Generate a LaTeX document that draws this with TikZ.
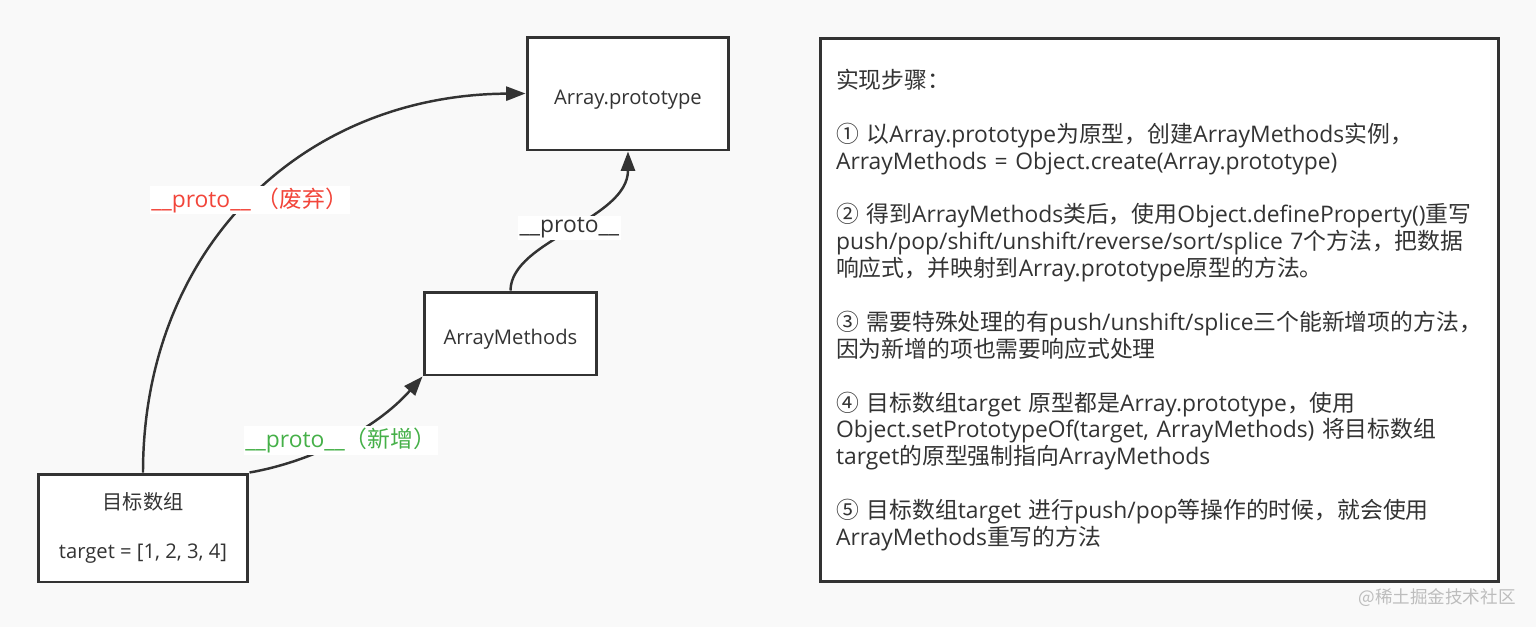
\documentclass[tikz,border=0pt]{standalone}
\usepackage{fontspec}
\setmainfont{Open Sans}
\newfontfamily\zhfont{Noto Sans CJK SC}
\newcommand\zh[1]{{\zhfont #1}}
\usepackage{xcolor}
\usetikzlibrary{arrows.meta}
\definecolor{ink}{HTML}{333333}
\definecolor{bgpaper}{HTML}{F9F9F9}
\definecolor{oldred}{HTML}{F2453A}
\definecolor{newgreen}{HTML}{45B048}
\definecolor{markgray}{HTML}{BDBDBD}

\begin{document}
\begin{tikzpicture}[x=0.02cm,y=-0.02cm]
\tikzset{box/.style={draw=ink,line width=1.7pt,fill=white,text=ink,font=\fontsize{11.5}{14}\selectfont}}
\tikzset{lowtext/.style={text height=14.5pt,text depth=2.5pt}}
\tikzset{link/.style={draw=ink,line width=1.4pt,-{Triangle[length=11pt,width=8pt]}}}
\tikzset{lbl/.style={fill=white,inner sep=1pt,font=\fontsize{13}{15}\selectfont}}

\fill[bgpaper] (0,0) rectangle (1536,627);
\useasboundingbox (0,0) rectangle (1536,627);

\node[box,lowtext,minimum width=4.04cm,minimum height=2.26cm] (proto) at (628,93.5) {Array.prototype};
\node[box,lowtext,minimum width=3.46cm,minimum height=1.66cm] (methods) at (510.5,333.5) {ArrayMethods};
\node[box,minimum width=4.2cm,minimum height=2.16cm,align=center] (target) at (143,528)
  {\raisebox{-3pt}{\zh{目标数组}}\\[14pt]\raisebox{-3pt}{target = [1, 2, 3, 4]}};

\node[box,minimum width=13.58cm,minimum height=10.88cm,text width=12.94cm,inner xsep=0.32cm,
  align=left,font=\fontsize{13}{15.3}\selectfont] (steps) at (1159.5,310) {%
\zh{实现步骤：}\\[15.3pt]
\zh{① 以}Array.prototype\zh{为原型，创建}ArrayMethods\zh{实例，}\\
ArrayMethods = Object.create(Array.prototype)\\[15.3pt]
\zh{② 得到}ArrayMethods\zh{类后，使用}Object.defineProperty()\zh{重写}\\
push/pop/shift/unshift/reverse/sort/splice 7\zh{个方法，把数据}\\
\zh{响应式，并映射到}Array.prototype\zh{原型的方法。}\\[15.3pt]
\zh{③ 需要特殊处理的有}push/unshift/splice\zh{三个能新增项的方法，}\\
\zh{因为新增的项也需要响应式处理}\\[15.3pt]
\zh{④ 目标数组}target \zh{原型都是}Array.prototype\zh{，使用}\\
Object.setPrototypeOf(target, ArrayMethods) \zh{将目标数组}\\
target\zh{的原型强制指向}ArrayMethods\\[15.3pt]
\zh{⑤ 目标数组}target \zh{进行}push/pop\zh{等操作的时候，就会使用}\\
ArrayMethods\zh{重写的方法}};

% links
\draw[link] (target.north) .. controls (143,250) and (300,95) .. (proto.west)
  node[lbl,text=oldred,pos=0.5] (oldlbl) {\_\_proto\_\_ \zh{（废弃）}};
\draw[link] (target.north east) .. controls (310,462) and (375,430) .. (methods.south west)
  node[lbl,text=newgreen,pos=0.5] (newlbl) {\_\_proto\_\_\zh{（新增）}};
\draw[link] (methods.north) .. controls (511,240) and (628,220) .. (proto.south)
  node[lbl,text=ink,pos=0.5] (plainlbl) {\_\_proto\_\_};

\node[text=markgray,font=\zhfont\fontsize{10}{12}\selectfont] (mark) at (1437,598) {@稀土掘金技术社区};
\end{tikzpicture}
\end{document}
